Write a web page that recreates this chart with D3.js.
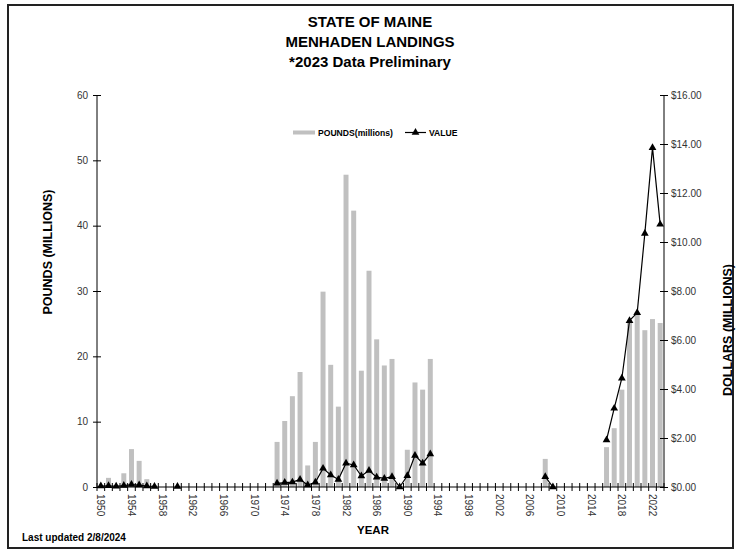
<!DOCTYPE html>
<html>
<head>
<meta charset="utf-8">
<script src="https://cdn.jsdelivr.net/npm/d3@7"></script>
<style>
  html, body { margin: 0; padding: 0; background: #fff; }
  svg { display: block; font-family: "Liberation Sans", Arial, sans-serif; }
</style>
</head>
<body>
<svg id="chart" width="740" height="550"></svg>
<script>
// ---- Data ----
const titleLines = ["STATE OF MAINE", "MENHADEN LANDINGS", "*2023 Data Preliminary"];
const axisYears = [1950,1951,1952,1953,1954,1955,1956,1957,1958,1959,1960,1961,1962,1963,1964,1965,1966,1967,1968,1969,
  1970,1971,1972,1973,1974,1975,1976,1977,1978,1979,1980,1981,1982,1983,1984,1985,1986,1987,1988,1989,
  1990,1991,1992,1993,1994,1995,1996,1997,1998,1999,2000,2001,2002,2003,2004,2005,2006,2007,2008,2009,
  2010,2011,2012,2013,2014,2015,2016,2017,2018,2019,2020,2021,2022,2023];
const yearTickLabels = [1950,1954,1958,1962,1966,1970,1974,1978,1982,1986,1990,1994,1998,2002,2006,2010,2014,2018,2022];
const dataYears = [1950,1951,1952,1953,1954,1955,1956,1957,
  1960,
  1973,1974,1975,1976,1977,1978,1979,1980,1981,1982,1983,1984,1985,1986,1987,1988,1989,1990,1991,1992,1993,
  2008,2009,
  2016,2017,2018,2019,2020,2021,2022,2023];
const poundsMillions = [0.2,1.4,0.3,2.1,5.8,4.0,1.2,0.3,
  0.1,
  6.9,10.1,13.9,17.6,3.3,6.9,29.9,18.7,12.3,47.8,42.3,17.8,33.1,22.6,18.6,19.6,0,5.7,16.0,14.9,19.6,
  4.3,0.1,
  6.1,9.0,14.9,25.5,26.7,24.0,25.7,25.1];
const valueMillions = [0.04,0.05,0.03,0.06,0.1,0.08,0.04,0.02,
  0.02,
  0.15,0.18,0.2,0.31,0.08,0.19,0.76,0.49,0.31,0.97,0.9,0.45,0.67,0.4,0.35,0.42,0.0,0.46,1.29,0.97,1.35,
  0.42,0.0,
  1.92,3.21,4.44,6.79,7.11,10.35,13.85,10.72];
const leftTicks = [0,10,20,30,40,50,60];
const rightTicks = [0,2,4,6,8,10,12,14,16];

// ---- Layout ----
const svg = d3.select("#chart");
const L = 97, R = 664, T = 95, B = 487;
const barColor = "#c0c0c0";

// frame
svg.append("rect").attr("x", 8).attr("y", 5).attr("width", 725).attr("height", 543)
  .attr("fill", "#fff").attr("stroke", "#222").attr("stroke-width", 2);

// title
svg.append("g").selectAll("text").data(titleLines).join("text")
  .attr("x", 370).attr("y", (d, i) => 27 + i * 20)
  .attr("text-anchor", "middle").attr("font-size", 15).attr("font-weight", "bold")
  .attr("fill", "#000").text(d => d);

// scales
const x = d3.scaleBand().domain(axisYears).range([L, R]).padding(0);
const step = x.step();
const barW = step * 0.65;
const yL = d3.scaleLinear().domain([0, 60]).range([B, T]);
const yR = d3.scaleLinear().domain([0, 16]).range([B, T]);

// bars
const rows = dataYears.map((yr, i) => ({ year: yr, pounds: poundsMillions[i], value: valueMillions[i] }));
svg.append("g").selectAll("rect").data(rows.filter(d => d.pounds > 0)).join("rect")
  .attr("x", d => x(d.year) + (step - barW) / 2)
  .attr("width", barW)
  .attr("y", d => yL(d.pounds))
  .attr("height", d => B - yL(d.pounds))
  .attr("fill", barColor);

// left axis
const gL = svg.append("g").attr("transform", `translate(${L},0)`)
  .call(d3.axisLeft(yL).tickValues(leftTicks).tickSize(4).tickPadding(5).tickFormat(d3.format("d")));
gL.select(".domain").attr("stroke", "#000").attr("d", `M0,${T}V${B}`);
gL.selectAll(".tick line").attr("x1", 4).attr("x2", -4).attr("stroke", "#000");
gL.selectAll(".tick text").attr("font-size", 10).attr("fill", "#333").attr("font-family", "Liberation Sans, Arial, sans-serif");

// right axis
const gR = svg.append("g").attr("transform", `translate(${R},0)`)
  .call(d3.axisRight(yR).tickValues(rightTicks).tickSize(4).tickPadding(3).tickFormat(d => "$" + d3.format(".2f")(d)));
gR.select(".domain").attr("stroke", "#000").attr("d", `M0,${T}V${B}`);
gR.selectAll(".tick line").attr("x1", -4).attr("x2", 4).attr("stroke", "#000");
gR.selectAll(".tick text").attr("font-size", 10).attr("fill", "#333").attr("font-family", "Liberation Sans, Arial, sans-serif");

// x axis line + cross ticks at band boundaries
const gX = svg.append("g");
gX.append("line").attr("x1", L).attr("x2", R).attr("y1", B).attr("y2", B).attr("stroke", "#000");
const boundaries = axisYears.map(yr => x(yr)).concat([R]);
gX.selectAll("line.tk").data(boundaries).join("line").attr("class", "tk")
  .attr("x1", d => d).attr("x2", d => d).attr("y1", B - 4).attr("y2", B + 4).attr("stroke", "#000");
gX.selectAll("text").data(yearTickLabels).join("text")
  .attr("transform", d => `translate(${x(d) + step / 2},494) rotate(90)`)
  .attr("dy", "0.35em").attr("text-anchor", "start")
  .attr("font-size", 10).attr("fill", "#333").text(d => d);

// value line
const lineData = axisYears.map(yr => {
  const r = rows.find(d => d.year === yr);
  return { year: yr, value: r ? r.value : null };
});
const line = d3.line().defined(d => d.value !== null)
  .x(d => x(d.year) + step / 2).y(d => yR(d.value));
svg.append("path").datum(lineData).attr("d", line)
  .attr("fill", "none").attr("stroke", "#000").attr("stroke-width", 1.2);
const tri = d3.symbol().type(d3.symbolTriangle).size(26);
svg.append("g").selectAll("path").data(rows).join("path")
  .attr("d", tri)
  .attr("transform", d => `translate(${x(d.year) + step / 2},${yR(d.value)})`)
  .attr("fill", "#000");

// legend
const lg = svg.append("g");
lg.append("rect").attr("x", 293).attr("y", 130.5).attr("width", 22).attr("height", 4).attr("fill", barColor);
lg.append("text").attr("x", 318).attr("y", 135.5).attr("font-size", 8.6).attr("font-weight", "bold").text("POUNDS(millions)");
lg.append("line").attr("x1", 405).attr("x2", 426).attr("y1", 132.5).attr("y2", 132.5).attr("stroke", "#000").attr("stroke-width", 1.2);
lg.append("path").attr("d", tri).attr("transform", "translate(415.5,132.5)").attr("fill", "#000");
lg.append("text").attr("x", 429).attr("y", 135.5).attr("font-size", 8.6).attr("font-weight", "bold").text("VALUE");

// axis titles
svg.append("text").attr("transform", "translate(51.5,252) rotate(-90)")
  .attr("text-anchor", "middle").attr("font-size", 12.5).attr("font-weight", "bold").text("POUNDS (MILLIONS)");
svg.append("text").attr("transform", "translate(731.5,330) rotate(-90)")
  .attr("text-anchor", "middle").attr("font-size", 12.5).attr("font-weight", "bold").text("DOLLARS (MILLIONS)");
svg.append("text").attr("x", 373).attr("y", 534)
  .attr("text-anchor", "middle").attr("font-size", 11.5).attr("font-weight", "bold").text("YEAR");
svg.append("text").attr("x", 22).attr("y", 541)
  .attr("font-size", 10).attr("font-weight", "bold").text("Last updated 2/8/2024");
</script>
</body>
</html>
